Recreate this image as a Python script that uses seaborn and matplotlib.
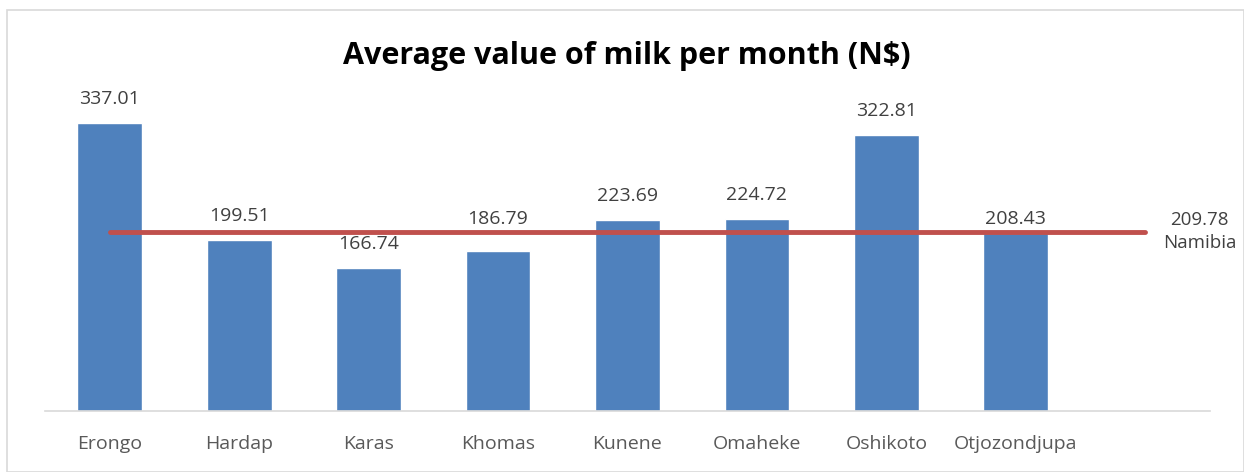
import numpy as np
import pandas as pd
import matplotlib
matplotlib.use("Agg")
import matplotlib.pyplot as plt
import seaborn as sns

regions = ["Erongo", "Hardap", "Karas", "Khomas", "Kunene", "Omaheke", "Oshikoto", "Otjozondjupa", ""]
milk_value = [337.01, 199.51, 166.74, 186.79, 223.69, 224.72, 322.81, 208.43, np.nan]
namibia_avg = 209.78
namibia_label = "Namibia"

sns.set_theme(style="white")
plt.rcParams['font.family'] = ['Open Sans', 'DejaVu Sans']

df = pd.DataFrame({"Region": regions, "Value": milk_value})

fig = plt.figure(figsize=(12.44, 4.72), dpi=100)
ax = fig.add_axes([45 / 1244, 61 / 472, 1165 / 1244, 342 / 472])

sns.barplot(data=df, x="Region", y="Value", color="#4F81BD", saturation=1,
            width=0.5, ax=ax)

# national average line, runs across the categories
ax.plot([0, len(regions) - 1], [namibia_avg] * 2, color="#C0504D", linewidth=3.5,
        solid_capstyle="round", zorder=3)
ax.text(len(regions) - 1 + 0.42, namibia_avg, f"{namibia_avg:.2f}\n{namibia_label}",
        ha="center", va="center", fontsize=13.5, color="#404040", linespacing=1.35)

# labels moved a bit so they don't sit on the red line (as in the original)
nudge = {"Khomas": 8, "Otjozondjupa": -10}
for i, v in enumerate(milk_value):
    if np.isnan(v):
        continue
    off = (24 + nudge.get(regions[i], 0)) * 0.72
    ax.annotate(f"{v:.2f}", xy=(i, v), xytext=(0, off), textcoords="offset points",
                ha="center", va="center", fontsize=14, color="#404040")

ax.set_xlim(-0.5, len(regions) - 0.5)
ax.set_ylim(0, 400)
ax.set_xlabel("")
ax.set_ylabel("")
ax.set_yticks([])
ax.tick_params(axis="x", length=0, labelsize=14, labelcolor="#595959", pad=17)
for side in ["top", "left", "right"]:
    ax.spines[side].set_visible(False)
ax.spines["bottom"].set_color("#D9D9D9")
ax.spines["bottom"].set_linewidth(1.2)

fig.text(627 / 1244, 1 - 56 / 472, "Average value of milk per month (N$)",
         ha="center", va="center", fontsize=22, fontweight="bold", color="black")

# chart border
border = plt.Rectangle((7 / 1244, 0), 1 - 7 / 1244, 1 - 10 / 472, transform=fig.transFigure,
                       fill=False, edgecolor="#D9D9D9", linewidth=1.2)
fig.patches.append(border)

fig.savefig("out.png", dpi=100)
